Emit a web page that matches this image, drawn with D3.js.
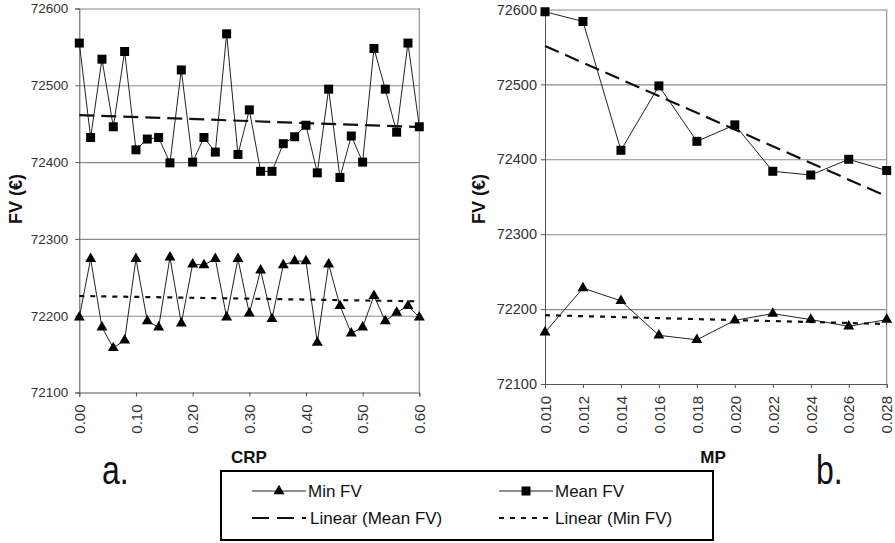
<!DOCTYPE html>
<html><head><meta charset="utf-8">
<script src="https://cdn.jsdelivr.net/npm/d3@7"></script>
<style>
body{margin:0;background:#fff;}
svg{font-family:Arial,"Liberation Sans",sans-serif;}
</style></head>
<body><svg id="c" width="895" height="543"></svg>
<script>
// ---- data ----
const crp = [0.00,0.02,0.04,0.06,0.08,0.10,0.12,0.14,0.16,0.18,0.20,0.22,0.24,0.26,0.28,0.30,
             0.32,0.34,0.36,0.38,0.40,0.42,0.44,0.46,0.48,0.50,0.52,0.54,0.56,0.58,0.60];
const crpMean = [72555,72432,72534,72446,72544,72416,72430,72432,72399,72520,72400,72432,72413,72567,72410,72468,
                 72388,72388,72424,72433,72448,72386,72495,72380,72434,72400,72548,72495,72439,72555,72446];
const crpMin  = [72198,72274,72185,72158,72168,72274,72193,72185,72276,72190,72267,72266,72274,72198,72274,72203,
                 72259,72196,72266,72271,72271,72165,72267,72213,72177,72185,72226,72193,72204,72213,72198];
const mp = [0.010,0.012,0.014,0.016,0.018,0.020,0.022,0.024,0.026,0.028];
const mpMean = [72597,72584,72412,72498,72424,72446,72384,72379,72400,72385];
const mpMin  = [72169,72228,72211,72165,72159,72185,72194,72186,72177,72186];
const yTicks = [72100,72200,72300,72400,72500,72600];
const crpTicks = [0.00,0.10,0.20,0.30,0.40,0.50,0.60];
const mpTicks = [0.010,0.012,0.014,0.016,0.018,0.020,0.022,0.024,0.026,0.028];
const legendLabels = ["Min FV","Mean FV","Linear (Mean FV)","Linear (Min FV)"];

const svg = d3.select("#c");

function linfit(xs, ys){
  const n=xs.length, mx=d3.mean(xs), my=d3.mean(ys);
  let sxy=0,sxx=0;
  for(let i=0;i<n;i++){sxy+=(xs[i]-mx)*(ys[i]-my);sxx+=(xs[i]-mx)**2;}
  const b=sxy/sxx, a=my-b*mx;
  return x=>a+b*x;
}

function panel(cfg){
  const g = svg.append("g");
  const x = d3.scaleLinear().domain(cfg.xdom).range(cfg.xr);
  const y = d3.scaleLinear().domain([72100,72600]).range(cfg.yr);
  const [x0,x1]=cfg.xr, [yb,yt]=cfg.yr;
  // grid
  g.append("g").attr("transform",`translate(${x0},0)`)
    .call(d3.axisLeft(y).tickValues(yTicks.slice(1)).tickSize(-(x1-x0)).tickFormat(""))
    .call(s=>{s.select(".domain").remove();s.selectAll("line").attr("stroke","#8a8a8a").attr("stroke-width",1.1);});
  // right border
  g.append("line").attr("x1",x1).attr("x2",x1).attr("y1",yt).attr("y2",yb).attr("stroke","#8a8a8a").attr("stroke-width",1.1);
  // y axis
  g.append("g").attr("transform",`translate(${x0},0)`)
    .call(d3.axisLeft(y).tickValues(yTicks).tickSize(4).tickPadding(cfg.ypad).tickFormat(d3.format("d")))
    .call(s=>{s.select(".domain").attr("stroke","#555");s.selectAll("line").attr("stroke","#555");
      s.selectAll("text").attr("font-size",cfg.yfs).attr("fill","#333").attr("font-family","Arial, Liberation Sans, sans-serif");});
  // x axis
  const xa = g.append("g").attr("transform",`translate(0,${yb})`)
    .call(d3.axisBottom(x).tickValues(cfg.xticks).tickSize(4).tickFormat(d3.format(cfg.xfmt)));
  xa.select(".domain").attr("stroke","#555");
  xa.selectAll("line").attr("stroke","#555");
  xa.selectAll("text").attr("font-size",15).attr("fill","#333").attr("font-family","Arial, Liberation Sans, sans-serif")
    .attr("text-anchor","end").attr("dy","0.35em").attr("y",0)
    .attr("transform","translate(0,12) rotate(-90)");
  // titles
  g.append("text").attr("transform",`translate(${cfg.ytx},199) rotate(-90)`).attr("text-anchor","middle")
    .attr("dy","0.35em").attr("font-weight","bold").attr("font-size",18).attr("fill","#111").text("FV (€)");
  g.append("text").attr("x",cfg.xtx).attr("y",463).attr("text-anchor","middle")
    .attr("font-weight","bold").attr("font-size",17).attr("fill","#111").text(cfg.xtitle);
  // series lines
  const line = d3.line().x(d=>x(d[0])).y(d=>y(d[1]));
  const meanPts = cfg.xs.map((v,i)=>[v,cfg.mean[i]]);
  const minPts = cfg.xs.map((v,i)=>[v,cfg.min[i]]);
  g.append("path").attr("d",line(meanPts)).attr("fill","none").attr("stroke","#222").attr("stroke-width",1);
  g.append("path").attr("d",line(minPts)).attr("fill","none").attr("stroke","#222").attr("stroke-width",1);
  // trend lines
  const fm = linfit(cfg.xs,cfg.mean), fn = linfit(cfg.xs,cfg.min);
  const ends = [cfg.xdom[0],cfg.xdom[1]];
  g.append("path").attr("d",line(ends.map(v=>[v,fm(v)]))).attr("fill","none").attr("stroke","#111")
    .attr("stroke-width",2.2).attr("stroke-dasharray","15,7");
  g.append("path").attr("d",line(ends.map(v=>[v,fn(v)]))).attr("fill","none").attr("stroke","#111")
    .attr("stroke-width",2.2).attr("stroke-dasharray","5,6");
  // markers
  g.selectAll(".sq").data(meanPts).join("path").attr("class","sq")
    .attr("transform",d=>`translate(${x(d[0])},${y(d[1])})`)
    .attr("d",d3.symbol(d3.symbolSquare,81)()).attr("fill","#000");
  g.selectAll(".tr").data(minPts).join("path").attr("class","tr")
    .attr("transform",d=>`translate(${x(d[0])},${y(d[1])})`)
    .attr("d",d3.symbol(d3.symbolTriangle,52)()).attr("fill","#000");
  // panel letter
  g.append("text").attr("transform",`translate(${cfg.lx},484) scale(0.8,1)`).attr("font-size",40).attr("fill","#111").text(cfg.letter);
}

panel({xdom:[0,0.6], xr:[79.3,419.3], yr:[392.5,8.5], xs:crp, mean:crpMean, min:crpMin,
  xticks:crpTicks, xfmt:".2f", ypad:7, yfs:13.5, ytx:16, xtx:249, xtitle:"CRP", letter:"a.", lx:102});
panel({xdom:[0.010,0.028], xr:[545,886.7], yr:[384,9.5], xs:mp, mean:mpMean, min:mpMin,
  xticks:mpTicks, xfmt:".3f", ypad:4, yfs:14.5, ytx:479, xtx:713, xtitle:"MP", letter:"b.", lx:816});

// legend
const lg = svg.append("g");
lg.append("rect").attr("x",221).attr("y",471).attr("width",492).attr("height",69)
  .attr("fill","#fff").attr("stroke","#000").attr("stroke-width",2);
const items = [
  {x:252, y:491, type:"tri", label:legendLabels[0]},
  {x:499, y:491, type:"sq", label:legendLabels[1]},
  {x:252, y:518, type:"dash", label:legendLabels[2]},
  {x:499, y:518, type:"dot", label:legendLabels[3]}
];
items.forEach(it=>{
  if(it.type==="tri"||it.type==="sq"){
    lg.append("line").attr("x1",it.x).attr("x2",it.x+54).attr("y1",it.y).attr("y2",it.y).attr("stroke","#222").attr("stroke-width",1);
    lg.append("path").attr("transform",`translate(${it.x+27},${it.y})`)
      .attr("d",d3.symbol(it.type==="tri"?d3.symbolTriangle:d3.symbolSquare,it.type==="tri"?52:81)()).attr("fill","#000");
  } else {
    lg.append("line").attr("x1",it.x).attr("x2",it.x+54).attr("y1",it.y).attr("y2",it.y).attr("stroke","#111")
      .attr("stroke-width",2.2).attr("stroke-dasharray",it.type==="dash"?"17,8":"5,6");
  }
  lg.append("text").attr("x",it.x+(it.type==="dash"?58:56)).attr("y",it.y).attr("dy","0.35em")
    .attr("font-size",17).attr("fill","#111").text(it.label);
});
</script></body></html>
